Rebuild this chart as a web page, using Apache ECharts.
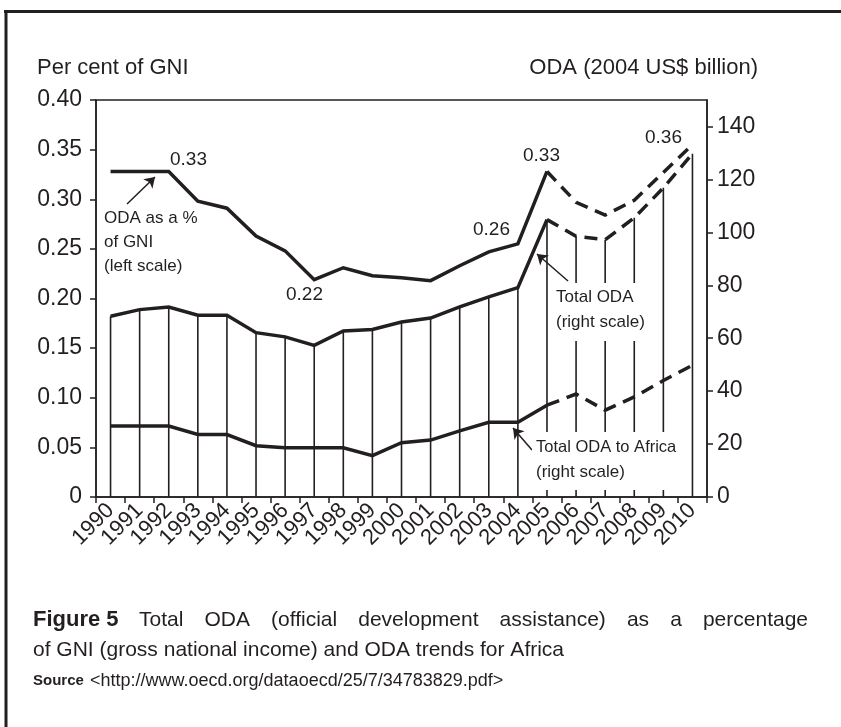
<!DOCTYPE html>
<html>
<head>
<meta charset="utf-8">
<script src="https://cdn.jsdelivr.net/npm/echarts@6/dist/echarts.min.js"></script>
<style>
html,body{margin:0;padding:0;background:#fff;}
#c{width:841px;height:727px;}
</style>
</head>
<body>
<div id="c"></div>
<script>
// ---- data ----
const years = ['1990','1991','1992','1993','1994','1995','1996','1997','1998','1999','2000',
               '2001','2002','2003','2004','2005','2006','2007','2008','2009','2010'];
const gniPct = [0.328,0.328,0.328,0.298,0.291,0.263,0.248,0.219,0.231,0.223,0.221,
                0.218,0.233,0.247,0.255,0.328,0.297,0.284,0.299,0.327,0.355];
const totalOda = [68.3,70.8,71.8,68.7,68.7,62.1,60.5,57.3,62.7,63.3,66.1,
                  67.6,71.8,75.6,79.1,104.8,98.5,97.2,105.5,116.8,129.7];
const africaOda = [26.8,26.8,26.8,23.6,23.6,19.4,18.6,18.6,18.6,15.6,20.5,
                   21.5,25.0,28.2,28.2,34.7,38.9,32.8,37.8,44.0,49.8];
const rightTicks = [0,20,40,60,80,100,120,140];
const splitIndex = 15; // 2005: solid up to here, dashed afterwards

const INK = '#231f20';
const SANS = '"Liberation Sans", Arial, sans-serif';

const solidPart = arr => arr.map((v,i) => i <= splitIndex ? v : null);
const dashedPart = arr => arr.map((v,i) => i >= splitIndex ? v : null);

const lineW = 3.5;
const dash = [13, 8];

function lineSeries(name, data, yIdx, dashed, extra) {
  return Object.assign({
    name: name, type: 'line', yAxisIndex: yIdx, data: data,
    symbol: 'none', connectNulls: false, silent: true, z: 5,
    lineStyle: { color: INK, width: lineW, type: dashed ? dash : 'solid', cap: 'butt', join: 'miter' }
  }, extra || {});
}

// justified first caption line
function justified(words, x0, x1, yc, font) {
  const ctx = document.createElement('canvas').getContext('2d');
  ctx.font = font;
  const widths = words.map(w => ctx.measureText(w).width);
  const total = widths.reduce((a,b) => a + b, 0);
  const gap = (x1 - x0 - total) / (words.length - 1);
  let x = x0;
  return words.map((w, i) => {
    const el = { type: 'text', z: 100, x: x, y: yc, style: { text: w, font: font, fill: INK, verticalAlign: 'middle' } };
    x += widths[i] + gap;
    return el;
  });
}

function txt(s, x, y, size, opts) {
  return { type: 'text', z: 100, x: x, y: y,
    style: Object.assign({ text: s, font: size + 'px ' + SANS, fill: INK, verticalAlign: 'middle' }, opts || {}) };
}

const chart = echarts.init(document.getElementById('c'), null, { renderer: 'canvas' });

const captionFont = '21px ' + SANS;

const option = {
  animation: false,
  backgroundColor: '#fff',
  grid: { left: 96, right: 134, top: 100, bottom: 230, show: true, borderColor: INK, borderWidth: 1.5, backgroundColor: 'transparent' },
  xAxis: {
    type: 'category', data: years, boundaryGap: true,
    axisLine: { lineStyle: { color: INK, width: 1.5 } },
    axisTick: { show: true, alignWithLabel: false, length: 6, lineStyle: { color: INK, width: 1.5 } },
    axisLabel: { rotate: 45, interval: 0, margin: 10, color: INK, fontFamily: SANS, fontSize: 22 },
    splitLine: { show: false }
  },
  yAxis: [
    {
      type: 'value', min: 0, max: 0.4, interval: 0.05, position: 'left',
      axisLine: { show: true, lineStyle: { color: INK, width: 1.5 } },
      axisTick: { show: true, length: 6, lineStyle: { color: INK, width: 1.5 } },
      axisLabel: { margin: 14, color: INK, fontFamily: SANS, fontSize: 23,
                   formatter: v => (Math.abs(v) < 1e-9 ? '0' : v.toFixed(2)) },
      splitLine: { show: false }
    },
    {
      type: 'value', min: 0, max: 150, interval: 10, position: 'right',
      axisLine: { show: true, lineStyle: { color: INK, width: 1.5 } },
      axisTick: { show: true, length: 6, customValues: rightTicks, lineStyle: { color: INK, width: 1.5 } },
      axisLabel: { margin: 10, color: INK, fontFamily: SANS, fontSize: 23, customValues: rightTicks,
                   formatter: v => (rightTicks.indexOf(v) >= 0 ? String(v) : '') },
      splitLine: { show: false }
    }
  ],
  series: [
    { name: 'drop', type: 'bar', yAxisIndex: 1, data: totalOda, barWidth: 1.6, silent: true, z: 2,
      itemStyle: { color: INK } },
    lineSeries('ODA % GNI', solidPart(gniPct), 0, false, {
      markLine: {
        silent: true, symbol: ['none', 'arrow'], symbolSize: 10, animation: false,
        label: { show: false },
        lineStyle: { type: 'solid', color: INK, width: 1.5 },
        data: [
          [{ x: 127, y: 204 }, { x: 155, y: 177 }],
          [{ x: 568, y: 281 }, { x: 537, y: 254 }],
          [{ x: 532, y: 450 }, { x: 513, y: 428 }]
        ]
      }
    }),
    lineSeries('ODA % GNI (proj.)', dashedPart(gniPct), 0, true),
    lineSeries('Total ODA', solidPart(totalOda), 1, false),
    lineSeries('Total ODA (proj.)', dashedPart(totalOda), 1, true),
    lineSeries('ODA to Africa', solidPart(africaOda), 1, false),
    lineSeries('ODA to Africa (proj.)', dashedPart(africaOda), 1, true)
  ],
  graphic: [
    // outer frame
    { type: 'line', z: 200, shape: { x1: 4, y1: 11.5, x2: 841, y2: 11.5 }, style: { stroke: INK, lineWidth: 3 } },
    { type: 'line', z: 200, shape: { x1: 6, y1: 10, x2: 6, y2: 727 }, style: { stroke: INK, lineWidth: 3 } },
    // axis titles
    txt('Per cent of GNI', 37, 68, 22),
    txt('ODA (2004 US$ billion)', 758, 68, 22, { align: 'right' }),
    // value callouts
    txt('0.33', 170, 160, 19),
    txt('0.22', 286, 295, 19),
    txt('0.26', 473, 230, 19),
    txt('0.33', 523, 156, 19),
    txt('0.36', 645, 138, 19),
    // series labels
    txt('ODA as a %', 104, 218, 17),
    txt('of GNI', 104, 242, 17),
    txt('(left scale)', 104, 266, 17),
    { type: 'rect', z: 90, shape: { x: 552, y: 283, width: 99, height: 58 }, style: { fill: '#fff' } },
    txt('Total ODA', 556, 297, 17),
    txt('(right scale)', 556, 322, 17),
    { type: 'rect', z: 90, shape: { x: 532, y: 432, width: 150, height: 58 }, style: { fill: '#fff' } },
    txt('Total ODA to Africa', 536, 447, 16.5),
    txt('(right scale)', 536, 472, 17),
    // caption
    { type: 'text', z: 100, x: 33, y: 620, style: { text: 'Figure 5', font: 'bold 22px ' + SANS, fill: INK, verticalAlign: 'middle' } }
  ].concat(
    justified(['Total','ODA','(official','development','assistance)','as','a','percentage'], 139, 808, 620, captionFont),
    [
      { type: 'text', z: 100, x: 33, y: 650, style: { text: 'of GNI (gross national income) and ODA trends for Africa', font: captionFont, fill: INK, verticalAlign: 'middle' } },
      { type: 'text', z: 100, x: 33, y: 681, style: { text: 'Source', font: 'bold 15px ' + SANS, fill: INK, verticalAlign: 'middle' } },
      { type: 'text', z: 100, x: 90, y: 681, style: { text: '<http://www.oecd.org/dataoecd/25/7/34783829.pdf>', font: '18px ' + SANS, fill: INK, verticalAlign: 'middle' } }
    ]
  )
};
chart.setOption(option);
</script>
</body>
</html>
